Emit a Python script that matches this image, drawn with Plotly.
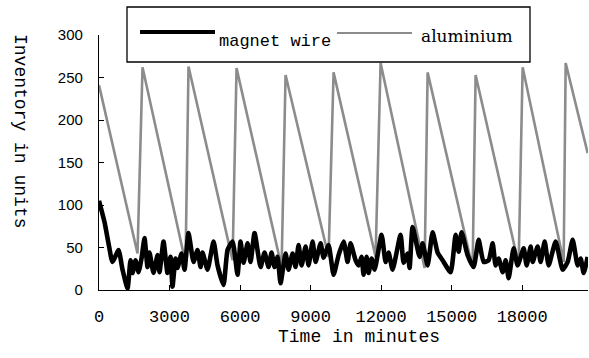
import plotly.graph_objects as go

# ---- data ----
wire_t = [0, 234, 404, 574, 830, 1000, 1213, 1340, 1425, 1553, 1681, 1808, 1936, 2064, 2149,
          2319, 2489, 2574, 2744, 2914, 3042, 3127, 3255, 3340, 3510, 3638, 3808, 4021, 4191,
          4319, 4404, 4617, 4872, 5042, 5298, 5468, 5681, 5893, 6021, 6149, 6319, 6446, 6617,
          6872, 7042, 7212, 7340, 7468, 7595, 7723, 7936, 8063, 8234, 8361, 8489, 8617, 8787,
          8914, 9085, 9212, 9425, 9553, 9765, 9978, 10191, 10404, 10574, 10701, 10914, 11042,
          11170, 11255, 11382, 11467, 11595, 11723, 12020, 12191, 12318, 12488, 12829, 12956,
          13127, 13212, 13340, 13638, 13765, 13978, 14191, 14403, 14616, 14957, 15169, 15297,
          15424, 15680, 15935, 16148, 16361, 16574, 16744, 16871, 16999, 17169, 17297, 17424,
          17637, 17807, 18063, 18190, 18361, 18446, 18658, 18786, 18956, 19127, 19424, 19722,
          19935, 20148, 20360, 20488, 20616, 20786]
wire_v = [105, 80, 55, 33, 47, 24, 2, 35, 20, 35, 21, 37, 61, 27, 44,
          20, 41, 21, 57, 20, 39, 4, 37, 26, 43, 24, 67, 33, 47,
          27, 44, 24, 57, 29, 6, 47, 57, 18, 57, 32, 55, 33, 67,
          27, 44, 27, 44, 27, 39, 8, 43, 24, 43, 27, 53, 29, 51,
          29, 57, 33, 55, 38, 53, 18, 41, 57, 33, 55, 35, 29,
          39, 18, 39, 20, 37, 24, 65, 33, 44, 24, 65, 32,
          43, 26, 74, 39, 55, 29, 68, 44, 35, 21, 65, 45,
          68, 41, 27, 59, 33, 35, 55, 29, 37, 21, 35, 14,
          49, 29, 49, 29, 51, 33, 51, 33, 57, 29, 57, 24,
          33, 59, 29, 37, 20, 39]

alu_t = [0, 1638, 1851, 3681, 3808, 5681, 5851, 7766, 7936, 9765, 9978, 11765, 11978,
         13850, 13978, 15892, 16020, 17850, 18020, 19765, 19850, 20786]
alu_v = [241, 43, 262, 32, 263, 35, 261, 27, 253, 39, 256, 39, 267,
         26, 256, 26, 253, 30, 262, 33, 267, 161]

x_ticks = [0, 3000, 6000, 9000, 12000, 15000, 18000]
y_ticks = [0, 50, 100, 150, 200, 250, 300]
series_names = ["magnet wire", "aluminium"]

ALU_COLOR = "#8c8c8c"

fig = go.Figure()
fig.add_trace(go.Scatter(x=alu_t, y=alu_v, mode="lines", name=series_names[1],
                         line=dict(color=ALU_COLOR, width=2.6), showlegend=False))
fig.add_trace(go.Scatter(x=wire_t, y=wire_v, mode="lines", name=series_names[0],
                         line=dict(color="black", width=4.6, shape="spline", smoothing=0.5),
                         showlegend=False))

L, R, T, B = 99, 1, 35, 68
W, H = 589, 358
pw, ph = W - L - R, H - T - B


def px(x):
    return (x - L) / pw


def py(y):
    return (H - B - y) / ph


mono = "Liberation Mono, Courier New, monospace"
serif = "DejaVu Serif, serif"

fig.update_layout(
    width=W, height=H,
    margin=dict(l=L, r=R, t=T, b=B),
    paper_bgcolor="white", plot_bgcolor="white",
    xaxis=dict(range=[0, 20800], tickvals=x_ticks, ticktext=[str(v) for v in x_ticks],
               showgrid=False, zeroline=False, showline=True, linecolor="black", linewidth=1.3,
               ticks="inside", ticklen=5, tickcolor="black",
               tickfont=dict(family=mono, size=17, color="black"), ticklabelstandoff=10),
    yaxis=dict(range=[0, 300], tickvals=y_ticks, showgrid=False, zeroline=False,
               showline=True, linecolor="black", linewidth=1.3,
               ticks="inside", ticklen=5, tickcolor="black",
               tickfont=dict(family="Liberation Sans, Arial, sans-serif", size=15, color="black"),
               ticklabelstandoff=12),
    showlegend=False,
)

# legend box (drawn manually to match the reference layout)
fig.add_shape(type="rect", xref="paper", yref="paper",
              x0=px(127), x1=px(530), y0=py(62), y1=py(7),
              line=dict(color="black", width=1.3), fillcolor="white", layer="above")
fig.add_shape(type="line", xref="paper", yref="paper",
              x0=px(140), x1=px(215), y0=py(32), y1=py(32),
              line=dict(color="black", width=4), layer="above")
fig.add_shape(type="line", xref="paper", yref="paper",
              x0=px(337), x1=px(412), y0=py(33), y1=py(33),
              line=dict(color=ALU_COLOR, width=2.2), layer="above")
fig.add_annotation(xref="paper", yref="paper", x=px(217), y=py(41), text=series_names[0],
                   showarrow=False, xanchor="left", yanchor="middle",
                   font=dict(family=mono, size=17, color="black"))
fig.add_annotation(xref="paper", yref="paper", x=px(419), y=py(36), text=series_names[1],
                   showarrow=False, xanchor="left", yanchor="middle",
                   font=dict(family=serif, size=17, color="black"))

# axis titles
fig.add_annotation(xref="paper", yref="paper", x=px(359), y=py(337), text="Time in minutes",
                   showarrow=False, xanchor="center", yanchor="middle",
                   font=dict(family=mono, size=18, color="black"))
fig.add_annotation(xref="paper", yref="paper", x=px(20), y=py(131), text="Inventory in units",
                   showarrow=False, xanchor="center", yanchor="middle", textangle=90,
                   font=dict(family=mono, size=18, color="black"))

fig.write_html("out.html", config={"displayModeBar": False},
               post_script="document.body.style.margin='0';document.body.style.padding='0';")
